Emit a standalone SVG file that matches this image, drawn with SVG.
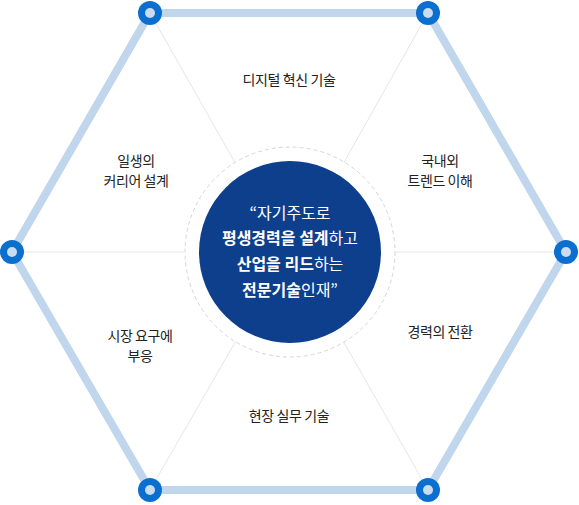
<svg xmlns="http://www.w3.org/2000/svg" width="579" height="505" viewBox="0 0 579 505">
<style>
.edge{stroke:#c0d6ec;stroke-width:8;fill:none;stroke-linecap:round}
.spoke{stroke:#e6e6e6;stroke-width:1;fill:none}
.lbl{font-family:"Noto Sans CJK KR","Noto Sans",sans-serif;font-size:14px;letter-spacing:-0.4px;fill:#222;text-anchor:middle}
.ctr{font-family:"Noto Sans CJK KR","Noto Sans",sans-serif;font-size:16px;fill:#fff;text-anchor:middle}
.b{font-weight:bold}
.dot-o{fill:#0b6fcf}
.dot-i{fill:#c9dcf0}
</style>
<rect width="579" height="505" fill="#fff"/>
<g id="connectors">
<polygon class="edge" points="150,13 428,13 566,252 428,490 150,490 12,252"/>
<line class="spoke" x1="150" y1="13" x2="237" y2="166"/>
<line class="spoke" x1="428" y1="13" x2="342" y2="166"/>
<line class="spoke" x1="566" y1="252" x2="395" y2="252"/>
<line class="spoke" x1="428" y1="490" x2="342" y2="339"/>
<line class="spoke" x1="150" y1="490" x2="237" y2="339"/>
<line class="spoke" x1="12" y1="252" x2="184" y2="252"/>
</g>
<g id="center">
<circle cx="290" cy="252" r="105" fill="#fff" stroke="#d6d6d6" stroke-width="1" stroke-dasharray="4 3"/>
<circle cx="290" cy="252" r="91" fill="#0e3f8d"/>
<text class="ctr" x="290" y="219">“자기주도로</text>
<text class="ctr" x="290" y="244"><tspan class="b">평생경력을 설계</tspan>하고</text>
<text class="ctr" x="290" y="270"><tspan class="b">산업을 리드</tspan>하는</text>
<text class="ctr" x="290" y="296"><tspan class="b">전문기술</tspan>인재”</text>
</g>
<g id="n1"><circle class="dot-o" cx="150" cy="13" r="12"/><circle class="dot-i" cx="150" cy="13" r="5"/></g>
<g id="n2"><circle class="dot-o" cx="428" cy="13" r="12"/><circle class="dot-i" cx="428" cy="13" r="5"/></g>
<g id="n3"><circle class="dot-o" cx="566" cy="252" r="12"/><circle class="dot-i" cx="566" cy="252" r="5"/></g>
<g id="n4"><circle class="dot-o" cx="428" cy="490" r="12"/><circle class="dot-i" cx="428" cy="490" r="5"/></g>
<g id="n5"><circle class="dot-o" cx="150" cy="490" r="12"/><circle class="dot-i" cx="150" cy="490" r="5"/></g>
<g id="n6"><circle class="dot-o" cx="12" cy="252" r="12"/><circle class="dot-i" cx="12" cy="252" r="5"/></g>
<g id="l-top"><text class="lbl" x="289" y="85">디지털 혁신 기술</text></g>
<g id="l-tr"><text class="lbl" x="440" y="166">국내외</text><text class="lbl" x="440" y="186">트렌드 이해</text></g>
<g id="l-br"><text class="lbl" x="440" y="337">경력의 전환</text></g>
<g id="l-bot"><text class="lbl" x="289" y="421">현장 실무 기술</text></g>
<g id="l-bl"><text class="lbl" x="140" y="341">시장 요구에</text><text class="lbl" x="140" y="361">부응</text></g>
<g id="l-tl"><text class="lbl" x="136" y="166">일생의</text><text class="lbl" x="136" y="186">커리어 설계</text></g>
</svg>
